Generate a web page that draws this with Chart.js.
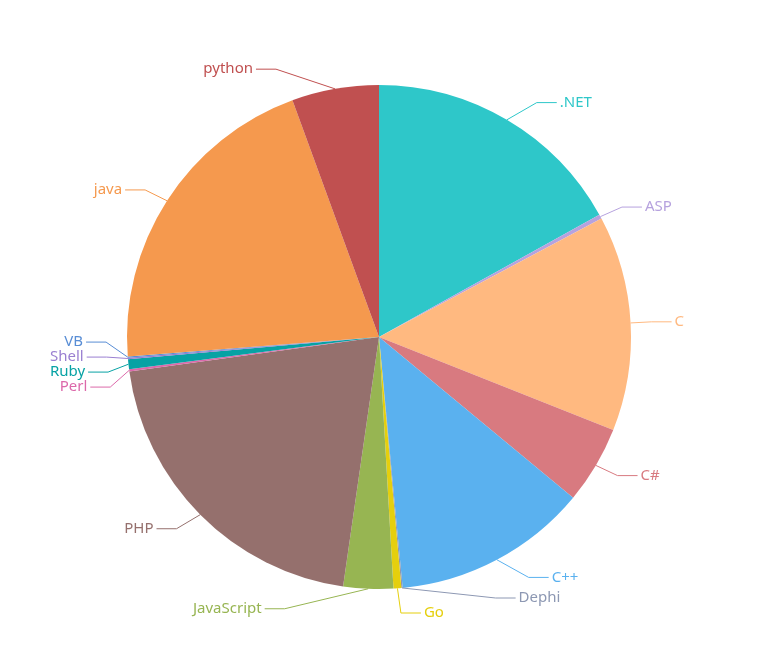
<!DOCTYPE html>
<html>
<head>
<meta charset="utf-8">
<script src="https://cdn.jsdelivr.net/npm/chart.js@4/dist/chart.umd.min.js"></script>
<style>
  html, body { margin: 0; padding: 0; background: #fff; }
  #wrap { width: 762px; height: 646px; position: relative; }
</style>
</head>
<body>
<div id="wrap"><canvas id="langPie"></canvas></div>
<script>
const categories = [".NET", "ASP", "C", "C#", "C++", "Dephi", "Go", "JavaScript",
  "PHP", "Perl", "Ruby", "Shell", "VB", "java", "python"];
const values = [610, 10, 497, 180, 450, 3, 18, 115, 740, 5, 23, 3, 3, 744, 201];

// Couleurs des secteurs (thème macarons)
const sliceColors = ["#2ec7c9", "#b6a2de", "#ffb980", "#d87a80", "#5ab1ef", "#8d98b3",
  "#e5cf0d", "#97b552", "#95706d", "#dc69aa", "#07a2a4", "#9a7fd1", "#588dd5",
  "#f5994e", "#c05050"];

// Étiquettes extérieures avec lignes de rappel
const outerLabels = {
  id: "outerLabels",
  afterDatasetsDraw(chart) {
    const meta = chart.getDatasetMeta(0);
    const ctx = chart.ctx;
    const first = meta.data[0];
    const cx = first.x, cy = first.y, r = first.outerRadius;
    const len = 20, len2 = 20, gap = 15;
    const rl = r + len;          // rayon du coude de la ligne
    const rt = r + 44;           // rayon d'ancrage du texte
    const lim = r + 24;          // limite haute / basse des étiquettes

    const items = meta.data.map((arc, i) => {
      const mid = (arc.startAngle + arc.endAngle) / 2;
      const dx = Math.cos(mid), dy = Math.sin(mid);
      const dir = dx < 0 ? -1 : 1;
      const x2 = cx + dx * rl;
      return { i, dir, x1: cx + dx * r, y1: cy + dy * r, y: cy + dy * rl, tx: x2 + dir * (len2 + 5) };
    });

    // écarter les étiquettes qui se chevauchent
    function spread(list) {
      list.sort((a, b) => a.y - b.y);
      const minY = cy - lim, maxY = cy + lim;
      const top = (g) => {
        const n = g.items.length;
        let t = g.sum / n - (n - 1) * gap / 2;
        t = Math.min(Math.max(t, minY), maxY - (n - 1) * gap);
        return t;
      };
      const groups = [];
      list.forEach((it) => {
        groups.push({ items: [it], sum: it.y });
        while (groups.length > 1) {
          const g = groups[groups.length - 1], p = groups[groups.length - 2];
          const pBottom = top(p) + (p.items.length - 1) * gap;
          if (top(g) < pBottom + gap) {
            p.items = p.items.concat(g.items);
            p.sum += g.sum;
            groups.pop();
          } else break;
        }
      });
      groups.forEach((g) => {
        const t = top(g);
        g.items.forEach((it, k) => { it.y = t + k * gap; });
      });
    }

    function changeX(list, isDown) {
      let last = isDown ? Infinity : 0;
      list.forEach((it) => {
        const ady = Math.abs(it.y - cy);
        let d = ady < rl ? Math.sqrt(rt * rt - ady * ady) : Math.abs(it.tx - cx);
        if (isDown && d >= last) d = last - 10;
        if (!isDown && d <= last) d = last + 10;
        it.tx = cx + d * it.dir;
        last = d;
      });
    }

    [1, -1].forEach((side) => {
      const list = items.filter((it) => it.dir === side);
      spread(list);
      changeX(list.filter((it) => it.y < cy), false);
      changeX(list.filter((it) => it.y >= cy), true);
    });

    ctx.save();
    ctx.font = "15px 'Noto Sans', sans-serif";
    ctx.textBaseline = "middle";
    ctx.lineWidth = 1;
    items.forEach((it) => {
      const color = sliceColors[it.i];
      const p3 = it.tx - 3 * it.dir;
      const p2 = p3 - len2 * it.dir;
      ctx.strokeStyle = color;
      ctx.beginPath();
      ctx.moveTo(it.x1, it.y1);
      ctx.lineTo(p2, it.y);
      ctx.lineTo(p3, it.y);
      ctx.stroke();
      ctx.fillStyle = color;
      ctx.textAlign = it.dir > 0 ? "left" : "right";
      ctx.fillText(categories[it.i], it.tx, it.y);
    });
    ctx.restore();
  },
};

const canvas = document.getElementById("langPie");

new Chart(canvas, {
  type: "pie",
  data: {
    labels: categories,
    datasets: [
      {
        data: values,
        backgroundColor: sliceColors,
        borderWidth: 0,
        hoverOffset: 0,
      },
    ],
  },
  options: {
    responsive: true,
    maintainAspectRatio: false,
    animation: false,
    layout: { padding: { top: 85, bottom: 57, left: 0, right: 4 } },
    plugins: {
      legend: { display: false },
      tooltip: { enabled: false },
    },
  },
  plugins: [outerLabels],
});
</script>
</body>
</html>
